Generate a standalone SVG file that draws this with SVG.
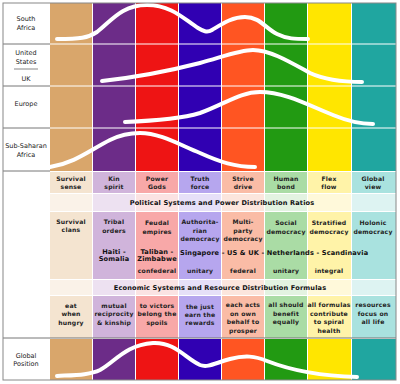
<svg xmlns="http://www.w3.org/2000/svg" width="400" height="384" viewBox="0 0 400 384">
<style>
.lbl{font-family:"DejaVu Sans",Verdana,sans-serif;font-size:6.5px;fill:#222;text-anchor:middle}
.t{font-family:"DejaVu Sans",Verdana,sans-serif;font-weight:bold;font-size:6.1px;letter-spacing:0.2px;fill:#222;text-anchor:middle}
.h{font-family:"DejaVu Sans",Verdana,sans-serif;font-weight:bold;font-size:6.6px;letter-spacing:0.15px;fill:#111;text-anchor:middle}
.curve{fill:none;stroke:#fff;stroke-width:4;stroke-linecap:round;stroke-linejoin:round}
.sep{stroke:#777;stroke-width:1}
.c0{fill:#D9A66B}.c1{fill:#6C2C88}.c2{fill:#EE1414}.c3{fill:#3000B2}.c4{fill:#FF5522}.c5{fill:#229A12}.c6{fill:#FFE600}.c7{fill:#20A6A0}
.m0{fill:#F4E4D0}.m1{fill:#D0B4DB}.m2{fill:#F8A8A8}.m3{fill:#B6A6EE}.m4{fill:#FABCA6}.m5{fill:#AADCA5}.m6{fill:#FFF3A8}.m7{fill:#A9E2DF}
.l0{fill:#FAF2E8}.l1{fill:#EDE1F1}.l2{fill:#FBE3E3}.l3{fill:#E6E0F8}.l4{fill:#FCE6DD}.l5{fill:#E3F3E1}.l6{fill:#FFF9DA}.l7{fill:#DDF3F2}
</style>
<rect x="0" y="0" width="400" height="384" fill="#fff"/>

<g id="bands-top">
<rect class="c0" x="50" y="3" width="42" height="168"/>
<rect class="c1" x="93" y="3" width="42" height="168"/>
<rect class="c2" x="136" y="3" width="42" height="168"/>
<rect class="c3" x="179" y="3" width="42" height="168"/>
<rect class="c4" x="222" y="3" width="42" height="168"/>
<rect class="c5" x="265" y="3" width="42" height="168"/>
<rect class="c6" x="308" y="3" width="43" height="168"/>
<rect class="c7" x="352" y="3" width="44" height="168"/>
<line x1="50" y1="44" x2="396" y2="44" stroke="#fff" stroke-width="1"/>
<line x1="50" y1="86" x2="396" y2="86" stroke="#fff" stroke-width="1"/>
<line x1="50" y1="128" x2="396" y2="128" stroke="#fff" stroke-width="1"/>
<line class="sep" x1="3" y1="44" x2="50" y2="44"/>
<line class="sep" x1="3" y1="86" x2="50" y2="86"/>
<line class="sep" x1="3" y1="128" x2="50" y2="128"/>
<line class="sep" x1="3" y1="171" x2="50" y2="171"/>
</g>

<g id="region-labels">
<text class="lbl" x="26" y="21">South</text>
<text class="lbl" x="26" y="30">Africa</text>
<text class="lbl" x="26" y="55">United</text>
<text class="lbl" x="26" y="64">States</text>
<line x1="14" y1="69" x2="38" y2="69" stroke="#555" stroke-width="0.7"/>
<text class="lbl" x="26" y="81">UK</text>
<text class="lbl" x="26" y="106">Europe</text>
<text class="lbl" x="26" y="148">Sub-Saharan</text>
<text class="lbl" x="26" y="157">Africa</text>
<text class="lbl" x="26" y="358">Global</text>
<text class="lbl" x="26" y="366">Position</text>
</g>

<g id="table">
<!-- header row -->
<rect class="m0" x="50" y="172" width="42" height="21"/>
<rect class="m1" x="93" y="172" width="42" height="21"/>
<rect class="m2" x="136" y="172" width="42" height="21"/>
<rect class="m3" x="179" y="172" width="42" height="21"/>
<rect class="m4" x="222" y="172" width="42" height="21"/>
<rect class="m5" x="265" y="172" width="42" height="21"/>
<rect class="m6" x="308" y="172" width="43" height="21"/>
<rect class="m7" x="352" y="172" width="44" height="21"/>
<!-- political header -->
<rect class="l0" x="50" y="194" width="42" height="17"/>
<rect class="l1" x="93" y="194" width="42" height="17"/>
<rect class="l2" x="136" y="194" width="42" height="17"/>
<rect class="l3" x="179" y="194" width="42" height="17"/>
<rect class="l4" x="222" y="194" width="42" height="17"/>
<rect class="l5" x="265" y="194" width="42" height="17"/>
<rect class="l6" x="308" y="194" width="43" height="17"/>
<rect class="l7" x="352" y="194" width="44" height="17"/>
<!-- political content -->
<rect class="m0" x="50" y="212" width="42" height="67"/>
<rect class="m1" x="93" y="212" width="42" height="67"/>
<rect class="m2" x="136" y="212" width="42" height="67"/>
<rect class="m3" x="179" y="212" width="42" height="67"/>
<rect class="m4" x="222" y="212" width="42" height="67"/>
<rect class="m5" x="265" y="212" width="42" height="67"/>
<rect class="m6" x="308" y="212" width="43" height="67"/>
<rect class="m7" x="352" y="212" width="44" height="67"/>
<!-- economic header -->
<rect class="l0" x="50" y="280" width="42" height="15"/>
<rect class="l1" x="93" y="280" width="42" height="15"/>
<rect class="l2" x="136" y="280" width="42" height="15"/>
<rect class="l3" x="179" y="280" width="42" height="15"/>
<rect class="l4" x="222" y="280" width="42" height="15"/>
<rect class="l5" x="265" y="280" width="42" height="15"/>
<rect class="l6" x="308" y="280" width="43" height="15"/>
<rect class="l7" x="352" y="280" width="44" height="15"/>
<!-- economic content -->
<rect class="m0" x="50" y="296" width="42" height="42"/>
<rect class="m1" x="93" y="296" width="42" height="42"/>
<rect class="m2" x="136" y="296" width="42" height="42"/>
<rect class="m3" x="179" y="296" width="42" height="42"/>
<rect class="m4" x="222" y="296" width="42" height="42"/>
<rect class="m5" x="265" y="296" width="42" height="42"/>
<rect class="m6" x="308" y="296" width="43" height="42"/>
<rect class="m7" x="352" y="296" width="44" height="42"/>

<text class="t" x="71" y="181">Survival</text><text class="t" x="71" y="189">sense</text>
<text class="t" x="114" y="181">Kin</text><text class="t" x="114" y="189">spirit</text>
<text class="t" x="157" y="181">Power</text><text class="t" x="157" y="189">Gods</text>
<text class="t" x="200" y="181">Truth</text><text class="t" x="200" y="189">force</text>
<text class="t" x="243" y="181">Strive</text><text class="t" x="243" y="189">drive</text>
<text class="t" x="286" y="181">Human</text><text class="t" x="286" y="189">bond</text>
<text class="t" x="329" y="181">Flex</text><text class="t" x="329" y="189">flow</text>
<text class="t" x="373" y="181">Global</text><text class="t" x="373" y="189">view</text>

<text class="h" x="222" y="205">Political Systems and Power Distribution Ratios</text>

<text class="t" x="71" y="224">Survival</text><text class="t" x="71" y="232">clans</text>
<text class="t" x="114" y="224">Tribal</text><text class="t" x="114" y="233">orders</text>
<text class="t" x="157" y="225">Feudal</text><text class="t" x="157" y="234">empires</text>
<text class="t" x="200" y="224">Authorita-</text><text class="t" x="200" y="233">rian</text><text class="t" x="200" y="241">democracy</text>
<text class="t" x="243" y="224">Multi-</text><text class="t" x="243" y="233">party</text><text class="t" x="243" y="241">democracy</text>
<text class="t" x="286" y="225">Social</text><text class="t" x="286" y="234">democracy</text>
<text class="t" x="329" y="225">Stratified</text><text class="t" x="329" y="234">democracy</text>
<text class="t" x="373" y="225">Holonic</text><text class="t" x="373" y="234">democracy</text>

<text class="h" x="114" y="254">Haiti -</text><text class="h" x="114" y="261">Somalia</text>
<text class="h" x="157" y="254">Taliban -</text><text class="h" x="157" y="261">Zimbabwe</text>
<text class="h" x="180" y="254.5" style="text-anchor:start">Singapore - US &amp; UK - Netherlands - Scandinavia</text>

<text class="t" x="157" y="273">confederal</text>
<text class="t" x="200" y="273">unitary</text>
<text class="t" x="243" y="273">federal</text>
<text class="t" x="286" y="273">unitary</text>
<text class="t" x="329" y="273">integral</text>

<text class="h" x="220" y="289.5">Economic Systems and Resource Distribution Formulas</text>

<text class="t" x="71" y="308">eat</text><text class="t" x="71" y="316">when</text><text class="t" x="71" y="325">hungry</text>
<text class="t" x="114" y="308">mutual</text><text class="t" x="114" y="316">reciprocity</text><text class="t" x="114" y="325">&amp; kinship</text>
<text class="t" x="157" y="308">to victors</text><text class="t" x="157" y="316">belong the</text><text class="t" x="157" y="325">spoils</text>
<text class="t" x="200" y="309">the just</text><text class="t" x="200" y="317">earn the</text><text class="t" x="200" y="325">rewards</text>
<text class="t" x="243" y="307">each acts</text><text class="t" x="243" y="315.5">on own</text><text class="t" x="243" y="324">behalf to</text><text class="t" x="243" y="333">prosper</text>
<text class="t" x="286" y="307">all should</text><text class="t" x="286" y="315.5">benefit</text><text class="t" x="286" y="324">equally</text>
<text class="t" x="329" y="307">all formulas</text><text class="t" x="329" y="315.5">contribute</text><text class="t" x="329" y="324">to spiral</text><text class="t" x="329" y="333">health</text>
<text class="t" x="373" y="307">resources</text><text class="t" x="373" y="315.5">focus on</text><text class="t" x="373" y="324">all life</text>
</g>

<g id="bands-bottom">
<line class="sep" x1="3" y1="338" x2="396" y2="338"/>
<rect class="c0" x="50" y="339" width="42" height="41"/>
<rect class="c1" x="93" y="339" width="42" height="41"/>
<rect class="c2" x="136" y="339" width="42" height="41"/>
<rect class="c3" x="179" y="339" width="42" height="41"/>
<rect class="c4" x="222" y="339" width="42" height="41"/>
<rect class="c5" x="265" y="339" width="42" height="41"/>
<rect class="c6" x="308" y="339" width="43" height="41"/>
<rect class="c7" x="352" y="339" width="44" height="41"/>
</g>

<g id="connectors">
<path class="curve" d="M57,39 C80,39 88,38 97,32 C112,20 122,5 147,5 C172,5 185,20 198,28 C203,31 207,33 212,30 C222,24 232,17 245,17 C260,17 265,28 277,34 C287,39 295,39 308,39"/>
<path class="curve" d="M102,81 C130,78 165,72 200,63 C225,56 240,50 253,50 C270,50 290,62 310,73 C325,80 345,82 362,82"/>
<path class="curve" d="M125,122 C150,121 180,119 200,113 C225,104 240,92 260,92 C285,92 310,106 333,115 C345,120 360,124 373,124"/>
<path class="curve" d="M50,167 C75,163 90,150 110,140 C122,134 130,133 140,133 C160,133 180,145 200,153 C220,162 235,167 255,167"/>
<path class="curve" d="M57,376 C75,375 90,375 100,370 C115,362 125,345 153,343 C175,342 185,358 200,365 C208,368 215,363 230,359 C245,355 255,356 267,361 C290,370 320,376 357,377"/>
</g>

<rect x="3" y="3" width="393" height="377" fill="none" stroke="#888" stroke-width="1"/>
</svg>
